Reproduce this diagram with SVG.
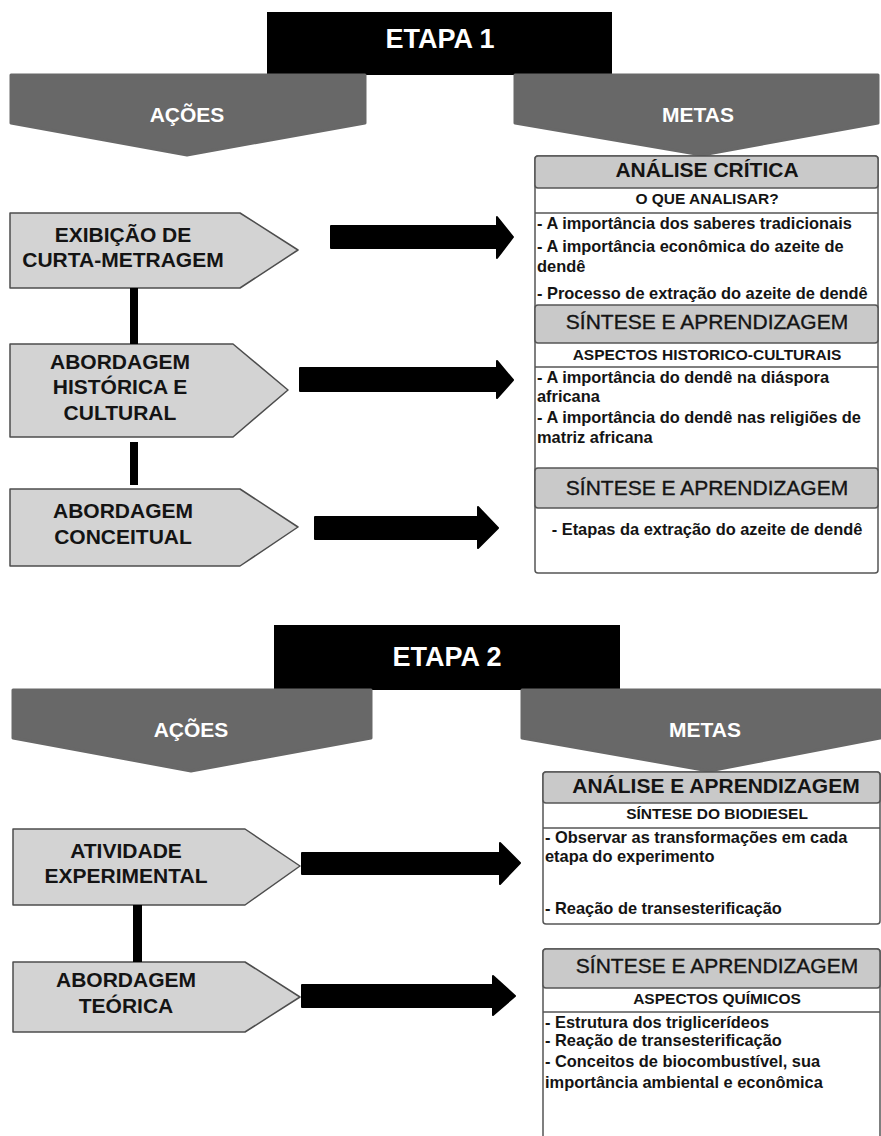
<svg xmlns="http://www.w3.org/2000/svg" width="881" height="1136" viewBox="0 0 881 1136">
<style>
text{font-family:"Liberation Sans",Arial,sans-serif}
.blk{fill:#000}
.chev{fill:#686868;stroke:#686868;stroke-width:3;stroke-linejoin:round}
.tw{fill:#fff;font-weight:bold;text-anchor:middle}
.pent{fill:#d3d3d3;stroke:#4d4d4d;stroke-width:1.5;stroke-linejoin:round}
.pt{font-weight:bold;font-size:21px;fill:#141414;text-anchor:middle}
.box{fill:#fff;stroke:#555;stroke-width:1.5}
.hrow{fill:#c9c9c9;stroke:#555;stroke-width:1.5}
.sep{stroke:#555;stroke-width:1.5}
.h1{font-size:21px;font-weight:bold;fill:#141414;text-anchor:middle}
.h2{font-size:21px;fill:#141414;stroke:#141414;stroke-width:0.35;text-anchor:middle}
.sub{font-size:15.5px;font-weight:bold;fill:#141414;text-anchor:middle}
.bd{font-size:16.4px;font-weight:bold;fill:#141414}
.arr{fill:#000;stroke:#000;stroke-width:2;stroke-linejoin:round}
</style>

<!-- ETAPA 1 -->
<g id="etapa1">
  <rect class="blk" x="267" y="12" width="345" height="63"/>
  <text class="tw" x="440" y="48" font-size="27">ETAPA 1</text>
</g>
<g id="acoes1">
  <path class="chev" d="M11,75 H365 V123 L187,155 L11,123 Z"/>
  <text class="tw" x="187" y="122" font-size="21">AÇÕES</text>
</g>
<g id="metas1">
  <path class="chev" d="M515,75 H878 V123 L702,155 L515,123 Z"/>
  <text class="tw" x="698" y="122" font-size="21">METAS</text>
</g>

<g id="acao-exibicao">
  <path class="pent" d="M10,213 H240 L298,250 L240,288 H10 Z"/>
  <text class="pt" x="123" y="242">EXIBIÇÃO DE</text>
  <text class="pt" x="123" y="267">CURTA-METRAGEM</text>
</g>
<g id="acao-historica">
  <path class="pent" d="M10,344 H233 L288,390 L233,437 H10 Z"/>
  <text class="pt" x="120" y="369">ABORDAGEM</text>
  <text class="pt" x="120" y="394">HISTÓRICA E</text>
  <text class="pt" x="120" y="420">CULTURAL</text>
</g>
<g id="acao-conceitual">
  <path class="pent" d="M10,489 H240 L298,527 L240,566 H10 Z"/>
  <text class="pt" x="123" y="518">ABORDAGEM</text>
  <text class="pt" x="123" y="544">CONCEITUAL</text>
</g>

<g id="metas-etapa1">
  <rect class="box" x="535" y="156" width="343" height="417" rx="3"/>
  <rect class="hrow" x="535" y="156" width="343" height="32" rx="3"/>
  <text class="h1" x="707" y="177">ANÁLISE CRÍTICA</text>
  <line class="sep" x1="535" y1="213" x2="878" y2="213"/>
  <text class="sub" x="707" y="204" font-size="16">O QUE ANALISAR?</text>
  <text class="bd" x="537" y="229">- A importância dos saberes tradicionais</text>
  <text class="bd" x="537" y="252">- A importância econômica do azeite de</text>
  <text class="bd" x="537" y="272">dendê</text>
  <text class="bd" x="537" y="299">- Processo de extração do azeite de dendê</text>
  <rect class="hrow" x="535" y="305" width="343" height="38" rx="3"/>
  <text class="h2" x="707" y="329">SÍNTESE E APRENDIZAGEM</text>
  <line class="sep" x1="535" y1="367" x2="878" y2="367"/>
  <text class="sub" x="707" y="360">ASPECTOS HISTORICO-CULTURAIS</text>
  <text class="bd" x="537" y="383">- A importância do dendê na diáspora</text>
  <text class="bd" x="537" y="402">africana</text>
  <text class="bd" x="537" y="423">- A importância do dendê nas religiões de</text>
  <text class="bd" x="537" y="443">matriz africana</text>
  <rect class="hrow" x="535" y="468" width="343" height="40" rx="3"/>
  <text class="h2" x="707" y="495">SÍNTESE E APRENDIZAGEM</text>
  <text class="bd" x="707" y="535" text-anchor="middle">- Etapas da extração do azeite de dendê</text>
</g>

<!-- ETAPA 2 -->
<g id="etapa2">
  <rect class="blk" x="274" y="625" width="346" height="65"/>
  <text class="tw" x="447" y="666" font-size="27">ETAPA 2</text>
</g>
<g id="acoes2">
  <path class="chev" d="M13,690 H371 V738 L191,771 L13,738 Z"/>
  <text class="tw" x="191" y="737" font-size="21">AÇÕES</text>
</g>
<g id="metas2">
  <path class="chev" d="M522,690 H880 V738 L709,771 L522,738 Z"/>
  <text class="tw" x="705" y="737" font-size="21">METAS</text>
</g>

<g id="acao-experimental">
  <path class="pent" d="M13,829 H245 L300,866 L245,905 H13 Z"/>
  <text class="pt" x="126" y="858">ATIVIDADE</text>
  <text class="pt" x="126" y="883">EXPERIMENTAL</text>
</g>
<g id="acao-teorica">
  <path class="pent" d="M13,962 H245 L300,997 L245,1032 H13 Z"/>
  <text class="pt" x="126" y="987">ABORDAGEM</text>
  <text class="pt" x="126" y="1013">TEÓRICA</text>
</g>

<g id="metas-etapa2-analise">
  <rect class="box" x="543" y="772" width="337" height="152" rx="3"/>
  <rect class="hrow" x="543" y="772" width="337" height="31" rx="3"/>
  <text class="h1" x="716" y="793">ANÁLISE E APRENDIZAGEM</text>
  <line class="sep" x1="543" y1="828" x2="880" y2="828"/>
  <text class="sub" x="717" y="819" font-size="16">SÍNTESE DO BIODIESEL</text>
  <text class="bd" x="545" y="843">- Observar as transformações em cada</text>
  <text class="bd" x="545" y="862">etapa do experimento</text>
  <text class="bd" x="545" y="914">- Reação de transesterificação</text>
</g>
<g id="metas-etapa2-sintese">
  <rect class="box" x="543" y="949" width="337" height="210" rx="3"/>
  <rect class="hrow" x="543" y="949" width="337" height="39" rx="3"/>
  <text class="h2" x="717" y="973">SÍNTESE E APRENDIZAGEM</text>
  <line class="sep" x1="543" y1="1012" x2="880" y2="1012"/>
  <text class="sub" x="717" y="1004">ASPECTOS QUÍMICOS</text>
  <text class="bd" x="545" y="1028">- Estrutura dos triglicerídeos</text>
  <text class="bd" x="545" y="1046">- Reação de transesterificação</text>
  <text class="bd" x="545" y="1067">- Conceitos de biocombustível, sua</text>
  <text class="bd" x="545" y="1088">importância ambiental e econômica</text>
</g>

<g id="connectors">
  <rect class="blk" x="130" y="288" width="8" height="56"/>
  <rect class="blk" x="130" y="442" width="8" height="43"/>
  <rect class="blk" x="133" y="905" width="9" height="57"/>
  <path class="arr" d="M331,226 H497 V217 L513,237 L497,258 V248 H331 Z"/>
  <path class="arr" d="M300,368 H497 V361 L513,380 L497,398 V391 H300 Z"/>
  <path class="arr" d="M315,517 H478 V507 L498,528 L478,548 V539 H315 Z"/>
  <path class="arr" d="M302,853 H500 V843 L520,863 L500,884 V874 H302 Z"/>
  <path class="arr" d="M302,985 H493 V976 L515,996 L493,1015 V1007 H302 Z"/>
</g>
</svg>
